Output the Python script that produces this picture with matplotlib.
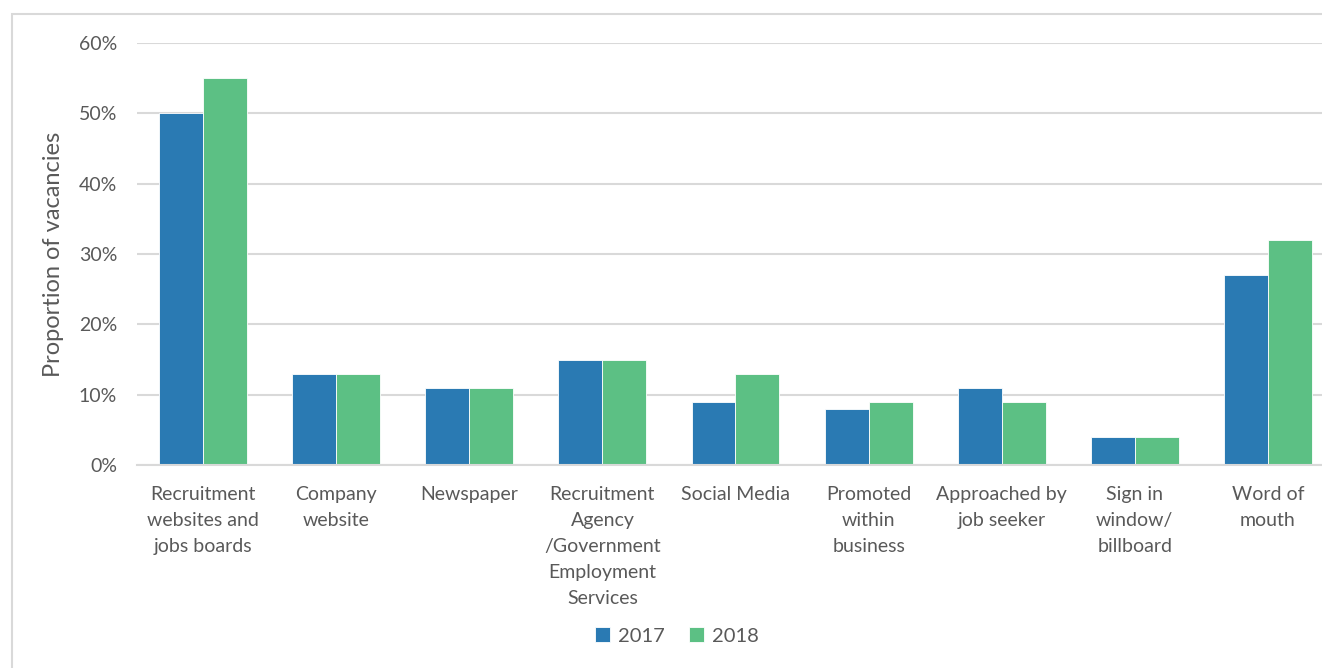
import numpy as np
import matplotlib.pyplot as plt
from matplotlib.patches import Rectangle

plt.rcParams['font.family'] = ['Lato', 'DejaVu Sans']

# Categories and values (proportion of vacancies, %)
categories = [
    "Recruitment\nwebsites and\njobs boards",
    "Company\nwebsite",
    "Newspaper",
    "Recruitment\nAgency\n/Government\nEmployment\nServices",
    "Social Media",
    "Promoted\nwithin\nbusiness",
    "Approached by\njob seeker",
    "Sign in\nwindow/\nbillboard",
    "Word of\nmouth",
]
vals_2017 = [50, 13, 11, 15, 9, 8, 11, 4, 27]
vals_2018 = [55, 13, 11, 15, 13, 9, 9, 4, 32]
yticks = [0, 10, 20, 30, 40, 50, 60]

blue = "#2A7AB3"
green = "#5CC084"
grey_txt = "#595959"
grid_c = "#D9D9D9"

W, H = 1322, 668
fig = plt.figure(figsize=(W / 100, H / 100), dpi=100)

# outer chart border (partly cut off)
fig.patches.append(Rectangle((12 / W, -0.05), 1.1, (H - 14) / H + 0.05,
                             transform=fig.transFigure, fill=False,
                             edgecolor=grid_c, linewidth=1.5))

ax_l, ax_r = 136.5, 1334.5
ax = fig.add_axes([ax_l / W, (H - 465) / H, (ax_r - ax_l) / W, (465 - 43) / H])

x = np.arange(len(categories))
w = 0.33
ax.bar(x - w / 2, vals_2017, width=w, color=blue, label="2017", zorder=3,
       edgecolor="white", linewidth=0.6)
ax.bar(x + w / 2, vals_2018, width=w, color=green, label="2018", zorder=3,
       edgecolor="white", linewidth=0.6)

ax.set_xlim(-0.5, len(categories) - 0.5)
ax.set_ylim(0, 60)
ax.set_yticks(yticks)
ax.set_yticklabels([f"{t}%" for t in yticks], fontsize=14, color=grey_txt)
ax.set_xticks(x)
ax.set_xticklabels(categories, fontsize=14, color=grey_txt, linespacing=1.65)
ax.tick_params(axis="both", length=0)
ax.tick_params(axis="x", pad=15)
ax.tick_params(axis="y", pad=14)

ax.yaxis.grid(True, color=grid_c, linewidth=1.5, zorder=0)
for s in ["top", "right", "left"]:
    ax.spines[s].set_visible(False)
ax.spines["bottom"].set_color(grid_c)
ax.spines["bottom"].set_linewidth(1.5)
ax.spines["bottom"].set_zorder(4)

ax.set_ylabel("Proportion of vacancies", fontsize=17, color=grey_txt)
ax.yaxis.set_label_coords((64 - ax_l) / (ax_r - ax_l), 0.5)

fig.legend(loc="center", bbox_to_anchor=(677 / W, (H - 636) / H), ncol=2,
           frameon=False, fontsize=14.5, handlelength=0.75, handleheight=0.75,
           handletextpad=0.4, columnspacing=1.2, labelcolor=grey_txt)

fig.savefig("out.png", dpi=100)
